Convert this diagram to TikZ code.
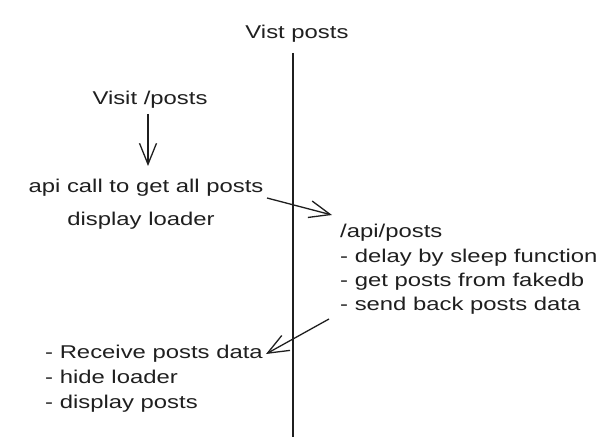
\documentclass[tikz,border=0pt]{standalone}
\usepackage{fontspec}
\setmainfont[FakeStretch=1.29]{Liberation Sans}
\usetikzlibrary{arrows.meta}
\begin{document}
\begin{tikzpicture}[x=1pt,y=-1pt,
  ink/.style={draw=black!88, line width=1.3pt},
  lbl/.style={font=\fontsize{18.5}{22}\selectfont, text=black!88, inner sep=0pt, anchor=base},
  lbll/.style={lbl, anchor=base west},
  barb/.style={-{Straight Barb[length=21pt,width=17pt,line width=1.3pt]}}]
\useasboundingbox (0,0) rectangle (605,438);
\fill[white] (0,0) rectangle (605,438);
\node[lbl] (title) at (297,39) {Vist posts};
\coordinate (ltop) at (293,53);
\coordinate (lbot) at (293,437);
\draw[ink] (ltop) -- (lbot);
\node[lbl] (visit) at (150,105) {Visit /posts};
\node[lbl] (api) at (146,193) {api call to get all posts};
\node[lbl] (disp) at (141,226) {display loader};
\draw[ink,barb] (148,114) -- (148,166);
\node[lbll] (srv1) at (340,238) {/api/posts};
\node[lbll] (srv2) at (340,263) {- delay by sleep function};
\node[lbll] (srv3) at (340,287) {- get posts from fakedb};
\node[lbll] (srv4) at (340,311) {- send back posts data};
\coordinate (a1s) at (267,198);
\coordinate (a1e) at (332,215);
\draw[ink,barb] (a1s) -- (a1e);
\node[lbll] (cl1) at (45,358) {- Receive posts data};
\node[lbll] (cl2) at (45,383) {- hide loader};
\node[lbll] (cl3) at (45,408) {- display posts};
\coordinate (a2s) at (329,319);
\coordinate (a2e) at (266,354);
\draw[ink,barb] (a2s) -- (a2e);
\end{tikzpicture}
\end{document}
